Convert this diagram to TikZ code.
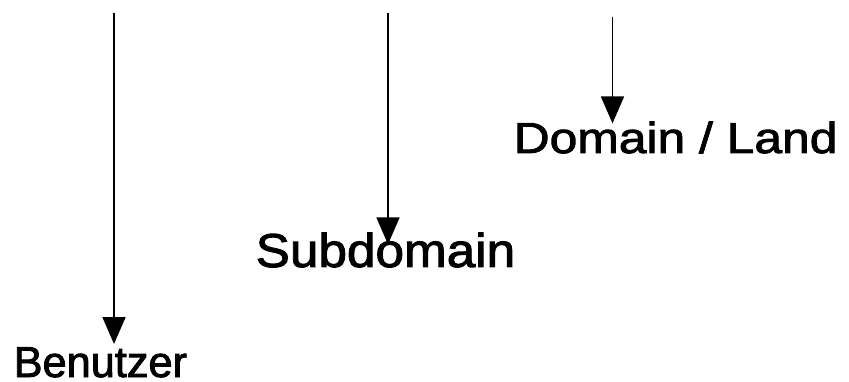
\documentclass[tikz,border=0pt]{standalone}
\usepackage{fontspec}
\setmainfont[FakeBold=2]{Liberation Sans}
\newfontfamily\subfont[FakeStretch=1.08,FakeBold=2]{Liberation Sans}
\newfontfamily\landfont[FakeStretch=1.15,FakeBold=2]{Liberation Sans}
\usetikzlibrary{arrows.meta}

\begin{document}
\begin{tikzpicture}[x=1pt,y=-1pt]
    \tikzstyle{every node}+=[inner sep=0pt, anchor=base west]
    \tikzset{pfeil/.style={line width=1.8pt, -{Triangle[length=27pt,width=23pt]}}}
    \useasboundingbox (0,0) rectangle (849,382);
    % labels
    \node (benutzer) at (13.5,377) {\fontsize{43.3}{50}\selectfont Benutzer};
    \node (subdomain) at (255.5,267) {\fontsize{47.5}{55}\selectfont\subfont Subdomain};
    \node (domain) at (513.5,153) {\fontsize{43.3}{50}\selectfont\landfont Domain / Land};
    % arrows from the top
    \coordinate (b0) at (114,13);
    \coordinate (s0) at (388,13);
    \coordinate (d0) at (612.5,17);
    \draw [pfeil, shorten >=3pt] (b0) -- (benutzer.north -| b0);
    \draw [pfeil, shorten >=-12pt] (s0) -- (subdomain.north -| s0);
    \draw [pfeil, shorten >=-2pt] (d0) -- (domain.north -| d0);
\end{tikzpicture}
\end{document}
